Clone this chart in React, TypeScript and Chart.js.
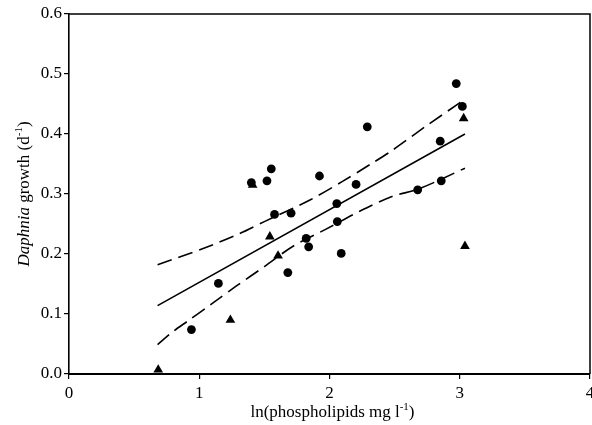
import React, { useEffect, useRef } from 'react';
import { Chart, registerables } from 'chart.js';

Chart.register(...registerables);

// Circles (observations)
const circleX = [0.94, 1.147, 1.40, 1.52, 1.553, 1.578, 1.705, 1.68, 1.821, 1.84, 1.923, 2.056, 2.06, 2.09, 2.204, 2.29, 2.677, 2.85, 2.858, 2.973, 3.02];
const circleY = [0.074, 0.151, 0.319, 0.322, 0.342, 0.266, 0.268, 0.169, 0.226, 0.212, 0.330, 0.284, 0.254, 0.201, 0.316, 0.412, 0.307, 0.388, 0.322, 0.484, 0.446];

// Triangles (observations)
const triangleX = [0.685, 1.239, 1.41, 1.542, 1.605, 3.03, 3.04];
const triangleY = [0.007, 0.090, 0.315, 0.229, 0.197, 0.426, 0.213];

// Regression line
const fitX = [0.68, 3.04];
const fitY = [0.114, 0.400];

// Upper confidence band
const upperX = [0.68, 1.04, 1.31, 1.50, 1.85, 2.10, 2.31, 2.47, 2.74, 3.04];
const upperY = [0.182, 0.210, 0.234, 0.254, 0.290, 0.321, 0.349, 0.371, 0.413, 0.458];

// Lower confidence band
const lowerX = [0.68, 0.80, 0.91, 1.09, 1.28, 1.50, 1.72, 1.97, 2.23, 2.48, 2.68, 3.04];
const lowerY = [0.049, 0.071, 0.088, 0.116, 0.146, 0.179, 0.213, 0.241, 0.271, 0.296, 0.308, 0.343];

const xTicks = [0, 1, 2, 3, 4];
const yTicks = [0, 0.1, 0.2, 0.3, 0.4, 0.5, 0.6];

const SERIF = '"Liberation Serif", "Times New Roman", serif';

const pts = (xs: number[], ys: number[]) => xs.map((x, i) => ({ x, y: ys[i] }));

const framePlugin = {
  id: 'frame',
  afterDraw(chart: any) {
    const { ctx, chartArea } = chart;
    const { left, right, top, bottom } = chartArea;
    ctx.save();
    ctx.strokeStyle = '#000';
    ctx.lineWidth = 1.5;
    ctx.beginPath();
    ctx.moveTo(left, top);
    ctx.lineTo(right, top);
    ctx.lineTo(right, bottom);
    ctx.stroke();
    ctx.restore();

    // X title
    ctx.save();
    ctx.fillStyle = '#000';
    ctx.textBaseline = 'alphabetic';
    const main = 17;
    const sup = 11;
    const xParts: { t: string; f: string; dy: number }[] = [
      { t: 'ln(phospholipids mg l', f: `${main}px ${SERIF}`, dy: 0 },
      { t: '-1', f: `${sup}px ${SERIF}`, dy: -7 },
      { t: ')', f: `${main}px ${SERIF}`, dy: 0 },
    ];
    let w = 0;
    xParts.forEach(p => { ctx.font = p.f; w += ctx.measureText(p.t).width; });
    let cx = (left + right) / 2 + 3 - w / 2;
    const by = 417;
    xParts.forEach(p => {
      ctx.font = p.f;
      ctx.fillText(p.t, cx, by + p.dy);
      cx += ctx.measureText(p.t).width;
    });
    ctx.restore();

    // Y title (rotated)
    ctx.save();
    ctx.fillStyle = '#000';
    ctx.translate(29, (top + bottom) / 2);
    ctx.rotate(-Math.PI / 2);
    const yParts: { t: string; f: string; dy: number }[] = [
      { t: 'Daphnia', f: `italic ${main}px ${SERIF}`, dy: 0 },
      { t: ' growth (d', f: `${main}px ${SERIF}`, dy: 0 },
      { t: '-1', f: `${sup}px ${SERIF}`, dy: -7 },
      { t: ')', f: `${main}px ${SERIF}`, dy: 0 },
    ];
    let wy = 0;
    yParts.forEach(p => { ctx.font = p.f; wy += ctx.measureText(p.t).width; });
    let cy = -wy / 2;
    yParts.forEach(p => {
      ctx.font = p.f;
      ctx.fillText(p.t, cy, p.dy);
      cy += ctx.measureText(p.t).width;
    });
    ctx.restore();
  },
};

export default function App() {
  const ref = useRef<HTMLCanvasElement | null>(null);

  useEffect(() => {
    document.body.style.margin = '0';
    if (!ref.current) return;
    const dash = [15, 7];
    const chart = new Chart(ref.current, {
      type: 'scatter',
      data: {
        datasets: [
          {
            label: 'circles',
            data: pts(circleX, circleY),
            pointStyle: 'circle',
            pointRadius: 4.4,
            backgroundColor: '#000',
            borderColor: '#000',
            borderWidth: 0,
            order: 0,
          },
          {
            label: 'triangles',
            data: pts(triangleX, triangleY),
            pointStyle: 'triangle',
            pointRadius: 5.6,
            backgroundColor: '#000',
            borderColor: '#000',
            borderWidth: 0,
            order: 0,
          },
          {
            label: 'fit',
            data: pts(fitX, fitY),
            showLine: true,
            pointRadius: 0,
            borderColor: '#000',
            borderWidth: 1.6,
            order: 1,
          },
          {
            label: 'upper',
            data: pts(upperX, upperY),
            showLine: true,
            pointRadius: 0,
            borderColor: '#000',
            borderWidth: 1.6,
            borderDash: dash,
            tension: 0.3,
            order: 1,
          },
          {
            label: 'lower',
            data: pts(lowerX, lowerY),
            showLine: true,
            pointRadius: 0,
            borderColor: '#000',
            borderWidth: 1.6,
            borderDash: dash,
            tension: 0.3,
            order: 1,
          },
        ],
      },
      options: {
        animation: false,
        responsive: true,
        maintainAspectRatio: false,
        layout: { autoPadding: false, padding: { top: 14, right: 2, left: 0, bottom: 0 } },
        plugins: {
          legend: { display: false },
          tooltip: { enabled: false },
          title: { display: false },
        },
        scales: {
          x: {
            type: 'linear',
            min: 0,
            max: 4,
            afterBuildTicks: (s: any) => { s.ticks = xTicks.map(v => ({ value: v })); },
            afterFit: (s: any) => {
              s.height = 51;
              s.paddingLeft = 0;
              s.paddingRight = 0;
            },
            ticks: {
              color: '#000',
              font: { family: SERIF, size: 17 },
              padding: 4,
              maxRotation: 0,
              callback: (v: any) => String(v),
            },
            grid: { drawOnChartArea: false, drawTicks: true, tickLength: 5, color: '#000', lineWidth: 1.2 },
            border: { display: true, color: '#000', width: 2 },
          },
          y: {
            type: 'linear',
            min: 0,
            max: 0.6,
            afterBuildTicks: (s: any) => { s.ticks = yTicks.map(v => ({ value: v })); },
            afterFit: (s: any) => {
              s.width = 69;
              s.paddingTop = 0;
              s.paddingBottom = 0;
            },
            ticks: {
              color: '#000',
              font: { family: SERIF, size: 17 },
              padding: 2,
              callback: (v: any) => Number(v).toFixed(1),
            },
            grid: { drawOnChartArea: false, drawTicks: true, tickLength: 5, color: '#000', lineWidth: 1.2 },
            border: { display: true, color: '#000', width: 1.6 },
          },
        },
      },
      plugins: [framePlugin],
    });
    return () => chart.destroy();
  }, []);

  return (
    <div style={{ position: 'absolute', left: 0, top: 0, width: 592, height: 425 }}>
      <canvas ref={ref} />
    </div>
  );
}
